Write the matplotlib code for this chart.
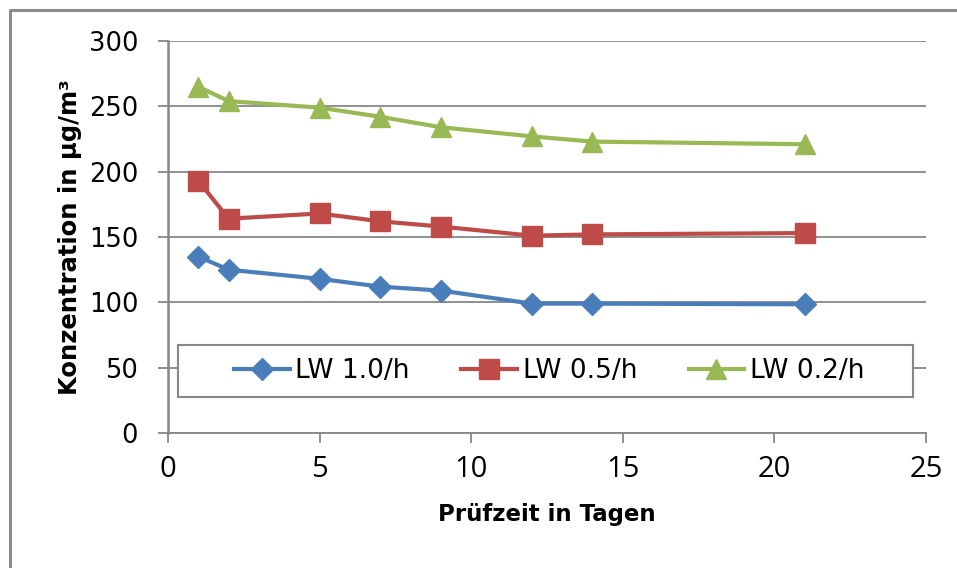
import matplotlib
matplotlib.use('Agg')
import matplotlib.pyplot as plt
from matplotlib.lines import Line2D
from matplotlib.patches import Rectangle

plt.rcParams['font.family'] = ['DejaVu Sans']

days = [1, 2, 5, 7, 9, 12, 14, 21]
lw_10 = [135, 125, 118, 112, 109, 99, 99, 98.5]
lw_05 = [193, 164, 168, 162, 158, 151, 152, 153]
lw_02 = [265, 254, 249, 242, 234, 227, 223, 221]
labels = ['LW 1.0/h', 'LW 0.5/h', 'LW 0.2/h']

grey = '#878787'

fig = plt.figure(figsize=(9.57, 5.68), dpi=100)
ax = fig.add_axes([168/957, 1 - 433/568, 758/957, 392/568])

ax.plot(days, lw_10, color='#4a7ebb', lw=3, marker='D', ms=11.5, label=labels[0], zorder=3)
ax.plot(days, lw_05, color='#be4b48', lw=3, marker='s', ms=14.5, label=labels[1], zorder=3)
ax.plot(days, lw_02, color='#98b954', lw=3, marker='^', ms=15, label=labels[2], zorder=3)

ax.set_xlim(0, 25)
ax.set_ylim(0, 300)
ax.set_xticks(range(0, 26, 5))
ax.set_yticks(range(0, 301, 50))
ax.yaxis.grid(True, color=grey, lw=1.3)
ax.set_axisbelow(True)
for s in ['top', 'right']:
  ax.spines[s].set_visible(False)
ax.spines['left'].set_color(grey)
ax.spines['left'].set_linewidth(1.8)
ax.spines['bottom'].set_color(grey)
ax.spines['bottom'].set_linewidth(1.3)
ax.tick_params(axis='both', colors=grey, labelcolor='black', length=7.5, width=1.3)
ax.tick_params(axis='y', labelsize=18.5, pad=14)
ax.tick_params(axis='x', labelsize=21, pad=8)
for t in ax.get_xticklabels():
  t.set_family(['Open Sans', 'DejaVu Sans'])

ax.set_xlabel('Prüfzeit in Tagen', fontsize=16.5, fontweight='bold', labelpad=14)
ax.set_ylabel('Konzentration in µg/m³', fontsize=17.5, fontweight='bold', labelpad=5)

# legend box
ax.add_patch(Rectangle((0.0132, 0.092), 0.97, 0.133, transform=ax.transAxes,
                       facecolor='white', edgecolor=grey, lw=1.5, zorder=4))
leg = ax.legend(loc='center', bbox_to_anchor=(0.503, 0.158), ncol=3, frameon=False,
                fontsize=19, handlelength=2.1, handletextpad=0.22, columnspacing=1.95)
leg.set_zorder(5)

# outer border
fig.add_artist(Line2D([9.5/957, 9.5/957, 1], [0, 1 - 9.5/568, 1 - 9.5/568],
                      transform=fig.transFigure, color='#8c8c8c', lw=2.2))

fig.savefig('out.png', dpi=100)
